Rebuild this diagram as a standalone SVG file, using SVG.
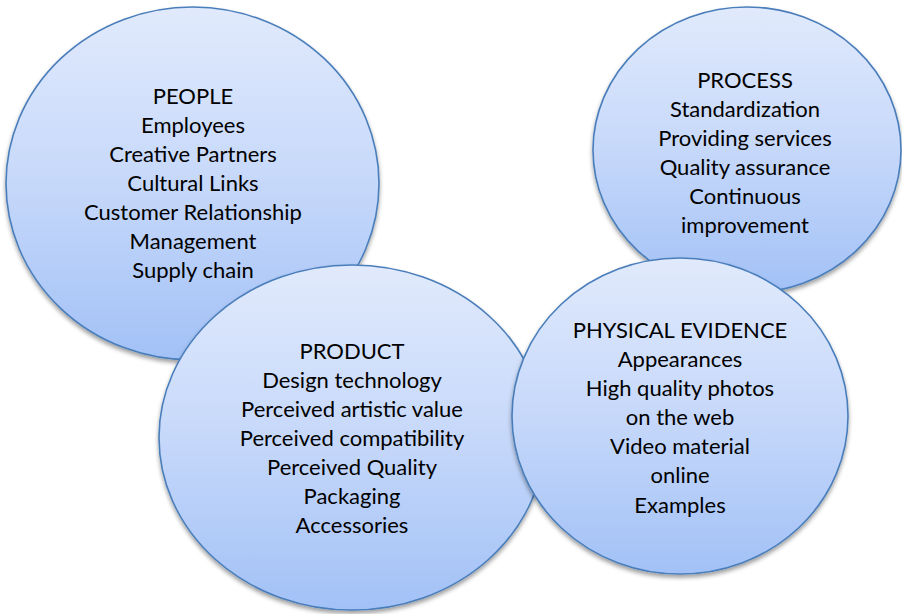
<svg xmlns="http://www.w3.org/2000/svg" width="902" height="614" viewBox="0 0 902 614">
<defs>
<linearGradient id="fill" x1="0" y1="0" x2="0" y2="1">
<stop offset="0" stop-color="#e1eafc"/>
<stop offset="0.5" stop-color="#c6d8fa"/>
<stop offset="1" stop-color="#a2c1f6"/>
</linearGradient>
<filter id="shadow" x="-10%" y="-10%" width="120%" height="125%">
<feDropShadow dx="0" dy="3" stdDeviation="2.2" flood-color="#000" flood-opacity="0.38"/>
</filter>
</defs>
<style>
.c{fill:url(#fill);stroke:#4a7ebb;stroke-width:1.6;filter:url(#shadow)}
text{font-family:Lato,"Liberation Sans",Arial,sans-serif;font-size:22px;fill:#000;text-anchor:middle}
</style>
<rect width="902" height="614" fill="#fff"/>
<g id="connectors"></g>
<g id="people">
<ellipse class="c" cx="192.5" cy="183.5" rx="186.5" ry="176.5"/>
<text x="193" y="104">PEOPLE</text>
<text x="193" y="133">Employees</text>
<text x="193" y="162">Creative Partners</text>
<text x="193" y="191">Cultural Links</text>
<text x="193" y="220">Customer Relationship</text>
<text x="193" y="249">Management</text>
<text x="193" y="278">Supply chain</text>
</g>
<g id="process">
<ellipse class="c" cx="747" cy="150" rx="154" ry="143"/>
<text x="745" y="88">PROCESS</text>
<text x="745" y="117">Standardization</text>
<text x="745" y="146">Providing services</text>
<text x="745" y="175">Quality assurance</text>
<text x="745" y="204">Continuous</text>
<text x="745" y="233">improvement</text>
</g>
<g id="product">
<ellipse class="c" cx="352" cy="437.5" rx="193" ry="172.5"/>
<text x="352" y="359">PRODUCT</text>
<text x="352" y="388">Design technology</text>
<text x="352" y="417">Perceived artistic value</text>
<text x="352" y="446">Perceived compatibility</text>
<text x="352" y="475">Perceived Quality</text>
<text x="352" y="504">Packaging</text>
<text x="352" y="533">Accessories</text>
</g>
<g id="physical-evidence">
<ellipse class="c" cx="680" cy="416" rx="168" ry="158"/>
<text x="680" y="338">PHYSICAL EVIDENCE</text>
<text x="680" y="367">Appearances</text>
<text x="680" y="396">High quality photos</text>
<text x="680" y="425">on the web</text>
<text x="680" y="454">Video material</text>
<text x="680" y="483">online</text>
<text x="680" y="513">Examples</text>
</g>
</svg>
